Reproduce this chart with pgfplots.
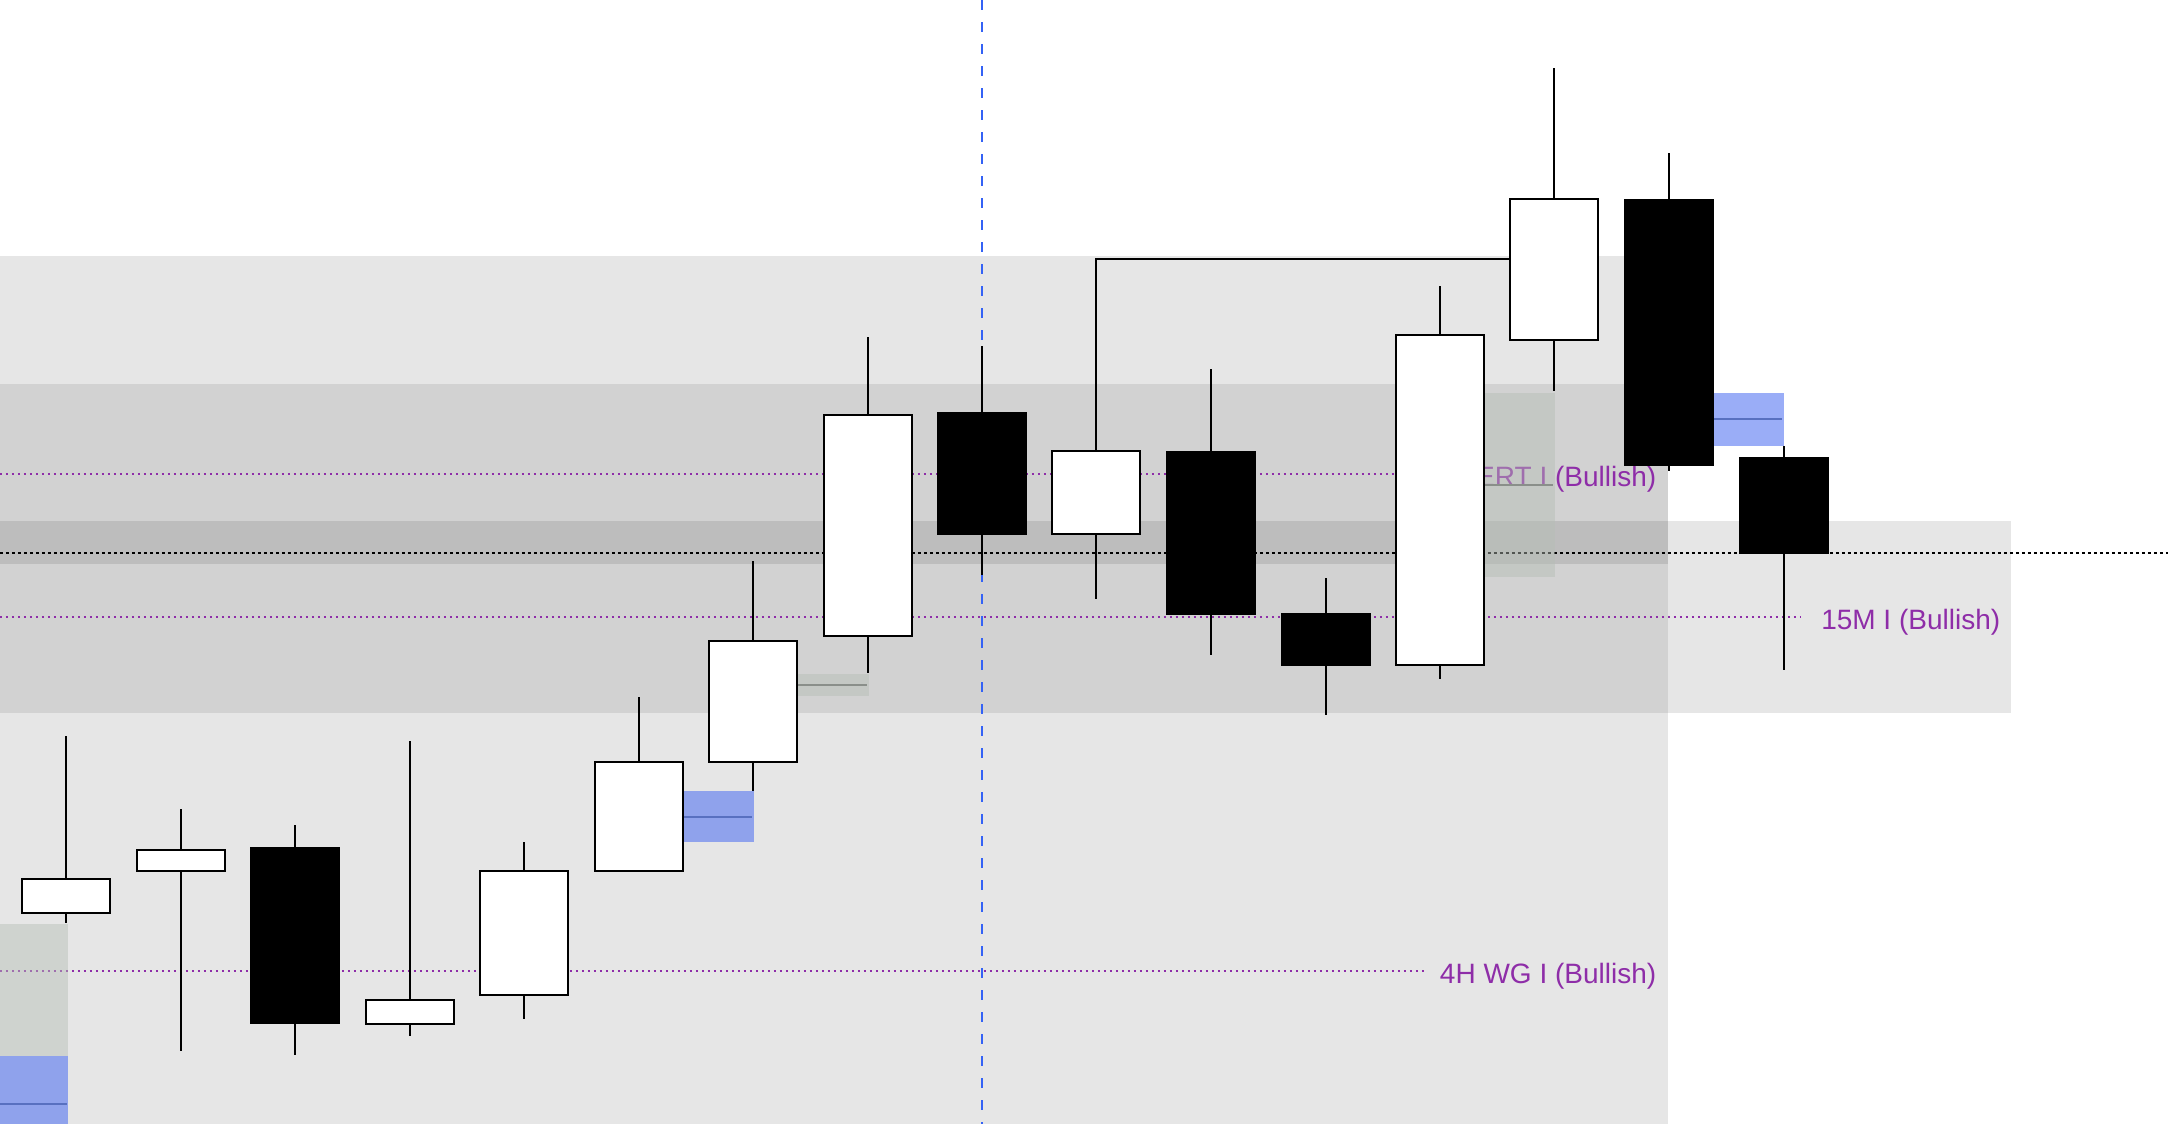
\documentclass[border=0pt]{standalone}
\usepackage{pgfplots}
\pgfplotsset{compat=1.18}
\usepackage{fontspec}
\setmainfont{Liberation Sans}
\definecolor{bandA}{HTML}{E6E6E6}
\definecolor{bandB}{HTML}{D2D2D2}
\definecolor{bandC}{HTML}{BDBDBD}
\definecolor{zoneG}{RGB}{181,190,181}
\definecolor{zoneB}{RGB}{75,110,242}
\definecolor{zoneBline}{RGB}{88,112,192}
\definecolor{zoneGline}{RGB}{138,143,138}
\definecolor{lab}{RGB}{142,45,168}
\definecolor{vline}{RGB}{52,98,245}
% \candle{x}{left}{right}{body top}{body bottom}{high}{low}{fill}
\newcommand{\candle}[8]{%
  \addplot[black, line width=0.42bp] coordinates {(#1,#6) (#1,#7)};
  \addplot[draw=black, fill=#8, line width=0.42bp] coordinates {(#2,#4) (#3,#4) (#3,#5) (#2,#5)} -- cycle;
}
\newcommand{\zone}[5]{% left right top bottom color opacity via style
  \addplot[draw=none, fill=#5] coordinates {(#1,#3) (#2,#3) (#2,#4) (#1,#4)} -- cycle;
}
\begin{document}
\begin{tikzpicture}
\begin{axis}[
  scale only axis, width=542bp, height=281bp,
  xmin=0, xmax=2168, ymin=0, ymax=1124, y dir=reverse,
  hide axis, no markers, clip=true,
  every axis plot/.append style={line join=miter},
]
% background
\zone{0}{2168}{0}{1124}{white}
\zone{0}{1668}{256}{1124}{bandA}
\zone{1668}{2011}{521}{713}{bandA}
\zone{0}{1668}{384}{713}{bandB}
\zone{0}{1668}{521}{564}{bandC}
% dotted level lines
\addplot[lab, line width=0.5bp, dash pattern=on 0.5bp off 1bp] coordinates {(0,474) (1420,474)};
\addplot[lab, line width=0.5bp, dash pattern=on 0.5bp off 1bp] coordinates {(0,617) (1800,617)};
\addplot[lab, line width=0.5bp, dash pattern=on 0.5bp off 1bp] coordinates {(0,971) (1427,971)};
\addplot[black, line width=0.45bp, dash pattern=on 0.65bp off 0.85bp] coordinates {(0,553) (2168,553)};
\addplot[vline, line width=0.5bp, dash pattern=on 2.5bp off 3bp] coordinates {(982,0) (982,1124)};
% labels
\node[anchor=base east, text=lab, font=\fontsize{7bp}{8bp}\selectfont, inner sep=0pt] at (axis cs:1657,486) {1H ERT I (Bullish)};
\node[anchor=base east, text=lab, font=\fontsize{7bp}{8bp}\selectfont, inner sep=0pt] at (axis cs:2001,629) {15M I (Bullish)};
\node[anchor=base east, text=lab, font=\fontsize{7bp}{8bp}\selectfont, inner sep=0pt] at (axis cs:1657,983) {4H WG I (Bullish)};
% zones
\addplot[draw=none, fill=zoneG, fill opacity=0.45] coordinates {(1484,393) (1555,393) (1555,577) (1484,577)} -- cycle;
\addplot[zoneGline, line width=0.55bp] coordinates {(1484,485) (1553,485)};
\addplot[draw=none, fill=zoneG, fill opacity=0.45] coordinates {(0,924) (68,924) (68,1056) (0,1056)} -- cycle;
\addplot[draw=none, fill=zoneG, fill opacity=0.45] coordinates {(797,674) (869,674) (869,696) (797,696)} -- cycle;
\addplot[zoneGline, line width=0.55bp] coordinates {(797,685) (867,685)};
\addplot[draw=none, fill=zoneB, fill opacity=0.56] coordinates {(1713,393) (1784,393) (1784,446) (1713,446)} -- cycle;
\addplot[zoneBline, line width=0.55bp] coordinates {(1713,419) (1782,419)};
\addplot[draw=none, fill=zoneB, fill opacity=0.56] coordinates {(683,791) (754,791) (754,842) (683,842)} -- cycle;
\addplot[zoneBline, line width=0.55bp] coordinates {(683,817) (752,817)};
\addplot[draw=none, fill=zoneB, fill opacity=0.56] coordinates {(0,1056) (68,1056) (68,1124) (0,1124)} -- cycle;
\addplot[zoneBline, line width=0.55bp] coordinates {(0,1104) (67,1104)};
% connecting line
\addplot[black, line width=0.45bp] coordinates {(1096,451) (1096,259) (1510,259)};
% candles
\candle{66}{22}{110}{879}{913}{736}{923}{white}
\candle{181}{137}{225}{850}{871}{809}{1051}{white}
\candle{295}{251}{339}{848}{1023}{825}{1055}{black}
\candle{410}{366}{454}{1000}{1024}{741}{1036}{white}
\candle{524}{480}{568}{871}{995}{842}{1019}{white}
\candle{639}{595}{683}{762}{871}{697}{871}{white}
\candle{753}{709}{797}{641}{762}{561}{791}{white}
\candle{868}{824}{912}{415}{636}{337}{673}{white}
\candle{982}{938}{1026}{413}{534}{346}{575}{black}
\candle{1096}{1052}{1140}{451}{534}{451}{599}{white}
\candle{1211}{1167}{1255}{452}{614}{369}{655}{black}
\candle{1326}{1282}{1370}{614}{665}{578}{715}{black}
\candle{1440}{1396}{1484}{335}{665}{286}{679}{white}
\candle{1554}{1510}{1598}{199}{340}{68}{391}{white}
\candle{1669}{1625}{1713}{200}{465}{153}{471}{black}
\candle{1784}{1740}{1828}{458}{553}{446}{670}{black}
\end{axis}
\end{tikzpicture}
\end{document}
